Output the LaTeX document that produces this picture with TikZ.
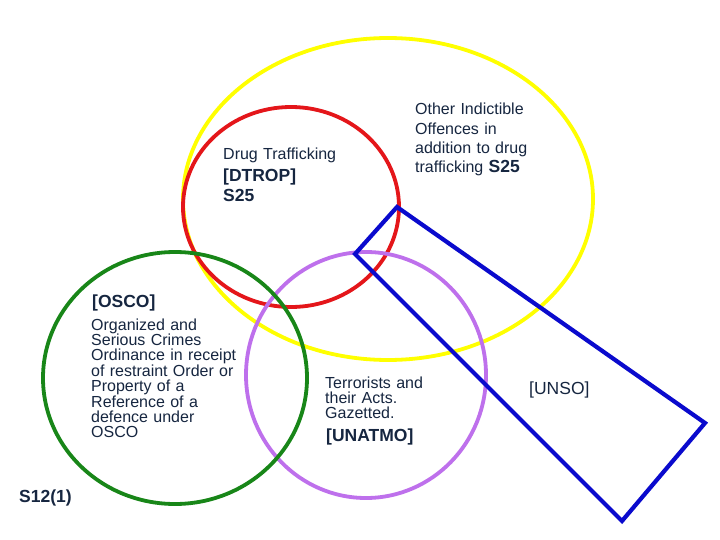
\documentclass[tikz,border=0pt]{standalone}
\usepackage{fontspec}
\setmainfont{Liberation Sans}
\definecolor{vyellow}{RGB}{255,255,0}
\definecolor{vred}{RGB}{228,22,26}
\definecolor{vgreen}{RGB}{24,134,24}
\definecolor{vpurple}{RGB}{190,112,236}
\definecolor{vblue}{RGB}{10,10,205}
\definecolor{txt}{RGB}{22,38,64}
\tikzset{
  ring/.style={line width=3.8pt},
  plain/.style={anchor=base west, inner sep=0pt, text=txt, text width=240pt, align=left,
                font=\fontsize{16}{15.4}\selectfont},
  label/.style={anchor=base west, inner sep=0pt, text=txt, text width=200pt, align=left,
                font=\fontsize{17.5}{20}\selectfont\bfseries},
}
\begin{document}
\begin{tikzpicture}[x=1pt,y=-1pt]
\useasboundingbox[fill=white] (0,0) rectangle (720,540);
% shapes
\draw[ring, vyellow] (388,199) ellipse [x radius=205pt, y radius=161pt];
\draw[ring, vred] (291,207) ellipse [x radius=108pt, y radius=100pt];
\draw[ring, vpurple] (366,375) ellipse [x radius=120pt, y radius=123pt];
\draw[ring, vgreen] (175,378) ellipse [x radius=132pt, y radius=126pt];
\coordinate (q1) at (397,207);
\coordinate (q2) at (705,423);
\coordinate (q3) at (622,521);
\coordinate (q4) at (355,254);
\draw[ring, vblue, line width=4.2pt, line join=miter] (q1) -- (q2) -- (q3) -- (q4) -- cycle;
% texts
\node[plain, font=\fontsize{16}{19.3}\selectfont] (other) at (415,115)
  {Other Indictible\\Offences in\\addition to drug\\trafficking {\bfseries\fontsize{17.5}{19.3}\selectfont S25}};
\node[plain] (drug) at (223,160) {Drug Trafficking};
\node[label] (dtrop) at (223,182) {[DTROP]\\S25};
\node[label] (osco) at (92,307) {[OSCO]};
\node[plain] (oscotext) at (91,330)
  {Organized and\\Serious Crimes\\Ordinance in receipt\\of restraint Order or\\Property of a\\Reference of a\\defence under\\OSCO};
\node[plain, font=\fontsize{16}{15}\selectfont] (terr) at (325,388) {Terrorists and\\their Acts.\\Gazetted.};
\node[label] (unatmo) at (326,441) {[UNATMO]};
\node[label, font=\fontsize{17.5}{20}\selectfont] (unso) at (529,394) {[UNSO]};
\node[label] (s12) at (19,502) {S12(1)};
\end{tikzpicture}
\end{document}
